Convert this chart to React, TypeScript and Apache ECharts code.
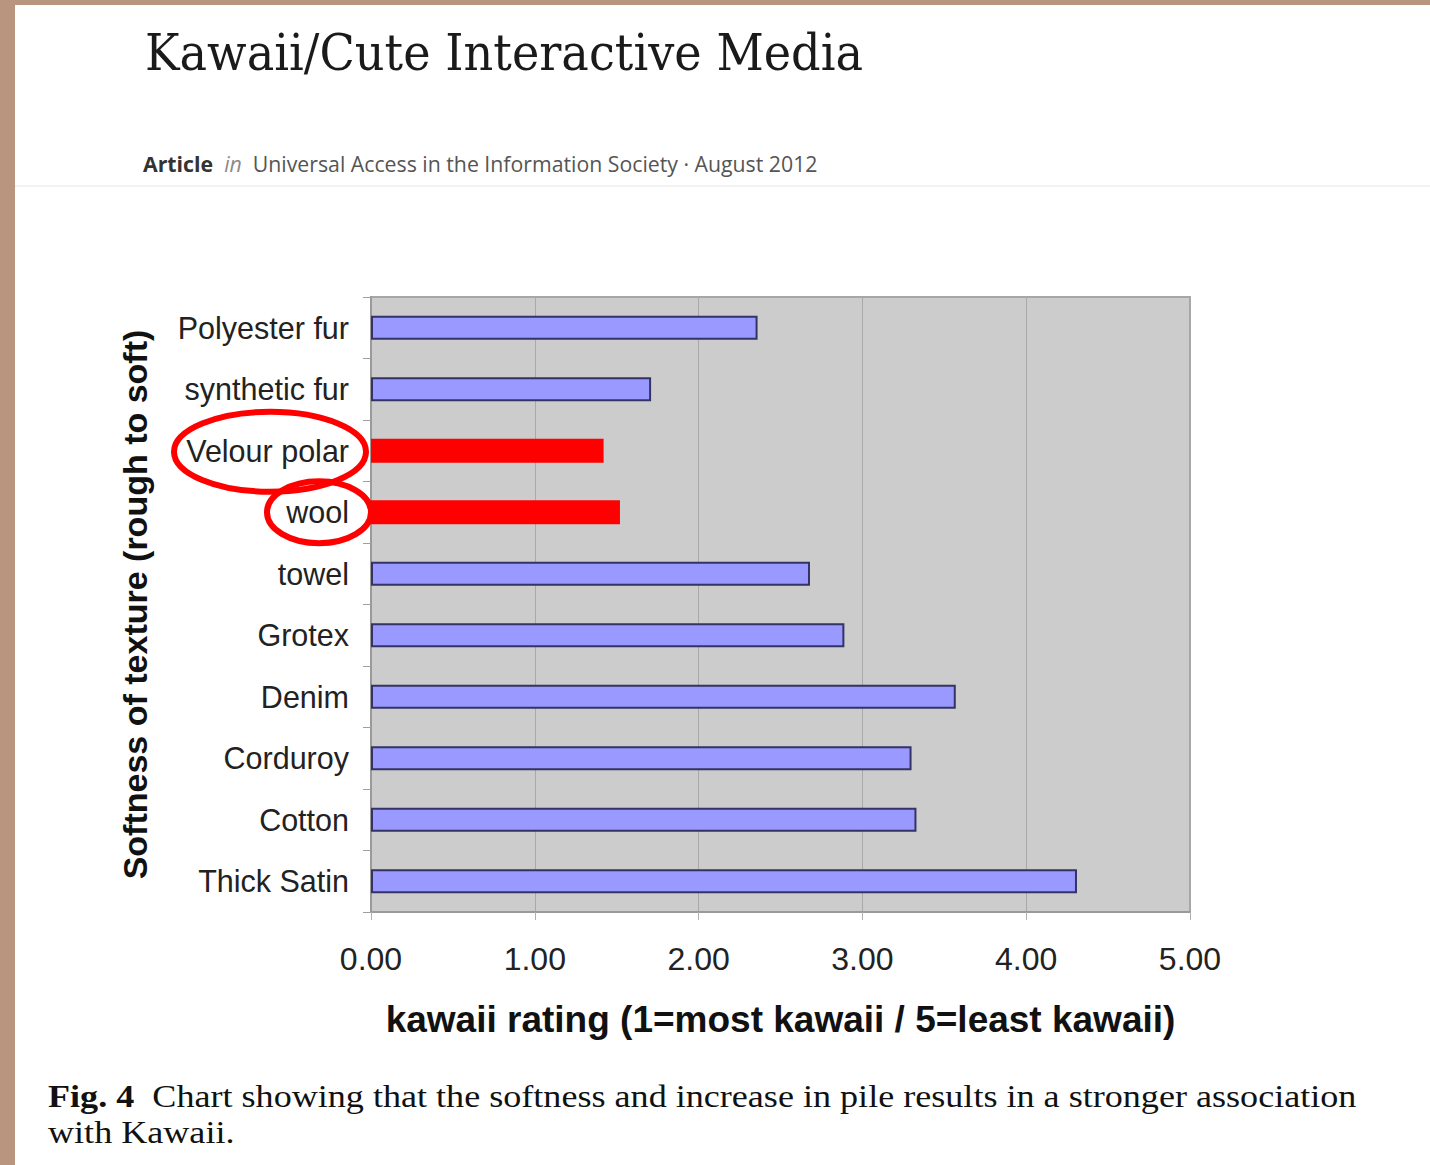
import React, { useEffect, useRef } from "react";
import * as echarts from "echarts";

const categories = [
  "Polyester fur",
  "synthetic fur",
  "Velour polar",
  "wool",
  "towel",
  "Grotex",
  "Denim",
  "Corduroy",
  "Cotton",
  "Thick Satin",
];
const ratings = [2.36, 1.71, 1.42, 1.52, 2.68, 2.89, 3.57, 3.3, 3.33, 4.31];
const highlighted = ["Velour polar", "wool"];
const xMin = 0;
const xMax = 5;
const xStep = 1;

const TITLE = "Kawaii/Cute Interactive Media";
const SUB_PARTS = [
  { t: "Article", font: "bold", color: "#333333", style: "normal" },
  { t: "  ", font: "normal", color: "#777777", style: "normal" },
  { t: "in", font: "normal", color: "#8a8a8a", style: "italic" },
  { t: "  Universal Access in the Information Society · August 2012", font: "normal", color: "#555555", style: "normal" },
];
const CAPTION1 = [
  { t: "Fig. 4", font: "bold", color: "#111111", style: "normal" },
  { t: "  Chart showing that the softness and increase in pile results in a stronger association", font: "normal", color: "#111111", style: "normal" },
];
const CAPTION2 = "with Kawaii.";
const X_NAME = "kawaii rating (1=most kawaii / 5=least kawaii)";
const Y_NAME = "Softness of texture (rough to soft)";

function measure(text: string, font: string): number {
  const c = document.createElement("canvas").getContext("2d");
  if (!c) return text.length * 10;
  c.font = font;
  return c.measureText(text).width;
}

function textRun(
  parts: { t: string; font: string; color: string; style: string }[],
  size: number,
  family: string,
  x: number,
  y: number,
  targetWidth: number
) {
  let cx = 0;
  const children: any[] = [];
  parts.forEach((p) => {
    const f = `${p.style} ${p.font} ${size}px "${family}"`;
    const w = measure(p.t, f);
    children.push({
      type: "text",
      x: cx,
      y: 0,
      style: {
        text: p.t,
        fontSize: size,
        fontFamily: family,
        fontWeight: p.font,
        fontStyle: p.style,
        fill: p.color,
        align: "left",
        verticalAlign: "middle",
      },
    });
    cx += w;
  });
  const scale = targetWidth / cx;
  return { group: { type: "group", x, y, scaleX: scale, children }, scale };
}

export default function App() {
  const ref = useRef<HTMLDivElement>(null);

  useEffect(() => {
    if (!ref.current) return;
    const chart = echarts.init(ref.current, undefined, { renderer: "svg" });

    const data = categories.map((c, i) => {
      const hl = highlighted.includes(c);
      return {
        value: ratings[i],
        itemStyle: hl
          ? { color: "#ff0000", borderColor: "#ff0000", borderWidth: 0 }
          : { color: "#9999ff", borderColor: "#333366", borderWidth: 2 },
      };
    });

    chart.setOption({
      animation: false,
      backgroundColor: "transparent",
      grid: {
        left: 371,
        top: 297,
        width: 819,
        height: 615,
        show: true,
        backgroundColor: "#cccccc",
        borderColor: "#a6a6a6",
        borderWidth: 2,
        containLabel: false,
      },
      xAxis: {
        type: "value",
        min: xMin,
        max: xMax,
        interval: xStep,
        axisLabel: {
          formatter: (v: number) => v.toFixed(2),
          fontSize: 32,
          color: "#222222",
          fontFamily: "Liberation Sans",
          margin: 31,
        },
        axisLine: { show: true, lineStyle: { color: "#9a9a9a", width: 2 } },
        axisTick: { show: true, length: 8, lineStyle: { color: "#b0b0b0", width: 1 } },
        splitLine: { show: true, lineStyle: { color: "#a9a9a9", width: 1 } },
        name: X_NAME,
        nameLocation: "middle",
        nameGap: 89,
        nameTextStyle: {
          fontSize: 37,
          fontWeight: "bold",
          color: "#111111",
          fontFamily: "Liberation Sans",
        },
      },
      yAxis: {
        type: "category",
        data: categories,
        inverse: true,
        axisLabel: {
          fontSize: 30.5,
          color: "#222222",
          fontFamily: "Liberation Sans",
          margin: 22,
        },
        axisTick: { show: true, length: 8, lineStyle: { color: "#a0a0a0", width: 1 } },
        axisLine: { show: true, lineStyle: { color: "#9a9a9a", width: 2 } },
        splitLine: { show: false },
        name: Y_NAME,
        nameLocation: "middle",
        nameGap: 219,
        nameRotate: 90,
        nameTextStyle: {
          fontSize: 34,
          fontWeight: "bold",
          color: "#111111",
          fontFamily: "Liberation Sans",
        },
      },
      series: [
        {
          type: "bar",
          data,
          barWidth: 24,
          silent: true,
        },
      ],
    });

    // Header and caption texts
    const titleFont = `normal normal 50px "DejaVu Serif"`;
    const titleW = measure(TITLE, titleFont);
    const titleScale = 718 / titleW;
    const sub = textRun(SUB_PARTS, 21, "Open Sans", 143, 164, 675);
    const cap1 = textRun(CAPTION1, 31, "Liberation Serif", 48, 1096, 1309);

    // Annotation ellipses anchored to the categories
    const yVel = chart.convertToPixel({ yAxisIndex: 0 }, "Velour polar") as number;
    const yWool = chart.convertToPixel({ yAxisIndex: 0 }, "wool") as number;

    chart.setOption({
      graphic: [
        {
          type: "text",
          x: 145,
          y: 52,
          scaleX: titleScale,
          style: {
            text: TITLE,
            fontSize: 50,
            fontFamily: "DejaVu Serif",
            fill: "#1a1a1a",
            align: "left",
            verticalAlign: "middle",
          },
        },
        sub.group,
        {
          type: "line",
          shape: { x1: 15, y1: 186, x2: 1430, y2: 186 },
          style: { stroke: "#eeeeee", lineWidth: 1.5 },
        },
        cap1.group,
        {
          type: "text",
          x: 48,
          y: 1132,
          scaleX: cap1.scale,
          style: {
            text: CAPTION2,
            fontSize: 31,
            fontFamily: "Liberation Serif",
            fill: "#111111",
            align: "left",
            verticalAlign: "middle",
          },
        },
        {
          type: "ellipse",
          z: 100,
          shape: { cx: 270, cy: yVel + 1, rx: 96, ry: 40 },
          style: { fill: "none", stroke: "#ff0000", lineWidth: 6 },
        },
        {
          type: "ellipse",
          z: 100,
          shape: { cx: 319, cy: yWool, rx: 52, ry: 31 },
          style: { fill: "none", stroke: "#ff0000", lineWidth: 6 },
        },
      ],
    });

    return () => chart.dispose();
  }, []);

  return (
    <div
      style={{
        position: "fixed",
        left: 0,
        top: 0,
        width: 1430,
        height: 1165,
        background: "#b9957f",
        overflow: "hidden",
      }}
    >
      <div
        style={{
          position: "absolute",
          left: 15,
          top: 5,
          right: 0,
          bottom: 0,
          background: "#ffffff",
        }}
      />
      <div
        ref={ref}
        style={{ position: "absolute", left: 0, top: 0, width: 1430, height: 1165 }}
      />
    </div>
  );
}
